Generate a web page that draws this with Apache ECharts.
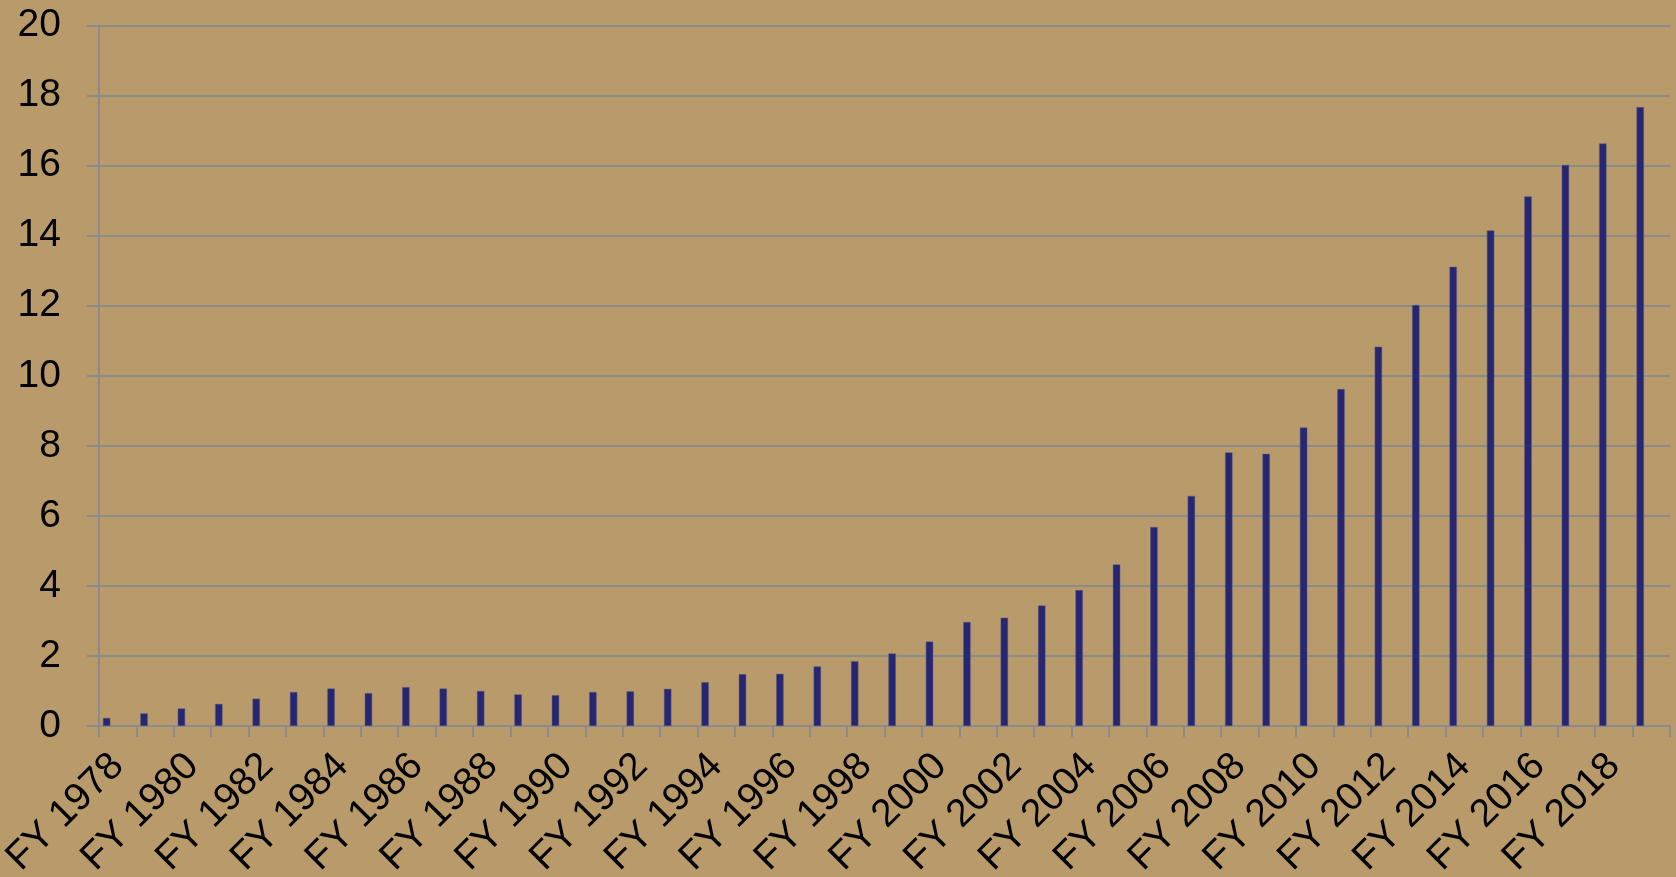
<!DOCTYPE html>
<html>
<head>
<meta charset="utf-8">
<script src="https://cdn.jsdelivr.net/npm/echarts@6/dist/echarts.min.js"></script>
<style>
html,body{margin:0;padding:0;background:#b99b6b;}
#chart{width:1676px;height:877px;}
</style>
</head>
<body>
<div id="chart"></div>
<script>
const categories = [
  'FY 1978','FY 1979','FY 1980','FY 1981','FY 1982','FY 1983','FY 1984','FY 1985','FY 1986','FY 1987',
  'FY 1988','FY 1989','FY 1990','FY 1991','FY 1992','FY 1993','FY 1994','FY 1995','FY 1996','FY 1997',
  'FY 1998','FY 1999','FY 2000','FY 2001','FY 2002','FY 2003','FY 2004','FY 2005','FY 2006','FY 2007',
  'FY 2008','FY 2009','FY 2010','FY 2011','FY 2012','FY 2013','FY 2014','FY 2015','FY 2016','FY 2017',
  'FY 2018','FY 2019'
];
const values = [
  0.23, 0.36, 0.50, 0.63, 0.78, 0.97, 1.07, 0.94, 1.11, 1.07,
  1.00, 0.90, 0.88, 0.97, 0.99, 1.06, 1.25, 1.48, 1.49, 1.70,
  1.85, 2.07, 2.41, 2.97, 3.09, 3.44, 3.88, 4.61, 5.68, 6.57,
  7.81, 7.77, 8.52, 9.62, 10.83, 12.02, 13.11, 14.15, 15.12, 16.02,
  16.63, 17.67
];
const yTicks = { min: 0, max: 20, interval: 2 };

const chart = echarts.init(document.getElementById('chart'), null, { renderer: 'canvas' });
const gridColor = '#8b8b8b';
const font = 'Liberation Sans, Arial, sans-serif';
chart.setOption({
  backgroundColor: '#b99b6b',
  animation: false,
  grid: { left: 99, right: 6, top: 25.5, bottom: 151, containLabel: false, outerBoundsMode: 'none' },
  xAxis: {
    type: 'category',
    data: categories,
    boundaryGap: true,
    axisLine: { show: true, lineStyle: { color: gridColor, width: 2 } },
    axisTick: { show: true, interval: 0, length: 11, lineStyle: { color: gridColor, width: 2 } },
    axisLabel: {
      interval: 1, rotate: 45, margin: 34,
      color: '#000', fontSize: 39, fontFamily: font
    },
    splitLine: { show: false }
  },
  yAxis: {
    type: 'value',
    min: yTicks.min, max: yTicks.max, interval: yTicks.interval,
    axisLine: { show: true, lineStyle: { color: gridColor, width: 2 } },
    axisTick: { show: true, length: 12, lineStyle: { color: gridColor, width: 2 } },
    axisLabel: { margin: 38, color: '#000', fontSize: 39, fontFamily: font },
    splitLine: { show: true, lineStyle: { color: gridColor, width: 2 } }
  },
  series: [
    {
      name: 'Value', type: 'bar', data: values,
      barCategoryGap: '21%', barGap: '0%',
      itemStyle: { color: '#262673', borderColor: '#5a5a80', borderWidth: 0.5 }
    },
    { name: 'b', type: 'bar', data: [], barGap: '0%' },
    { name: 'c', type: 'bar', data: [], barGap: '0%' },
    { name: 'd', type: 'bar', data: [], barGap: '0%' }
  ]
});
</script>
</body>
</html>
